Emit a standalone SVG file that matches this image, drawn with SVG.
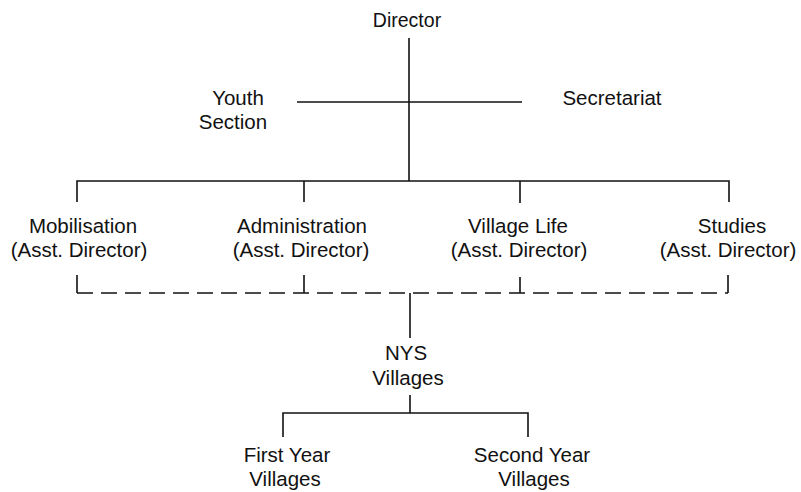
<svg xmlns="http://www.w3.org/2000/svg" width="801" height="492" viewBox="0 0 801 492">
<style>
text{font-family:"Liberation Sans",Arial,sans-serif;font-size:20.5px;fill:#111;text-anchor:middle}
.ln{stroke:#111;stroke-width:1.6;fill:none}
.dash{stroke:#111;stroke-width:1.6;fill:none;stroke-dasharray:16 8}
</style>
<rect width="801" height="492" fill="#fff"/>
<g id="connectors">
<path class="ln" d="M409 38V181"/>
<path class="ln" d="M297 102H522"/>
<path class="ln" d="M77 202V181H729V202M304 181V202M520 181V203"/>
<path class="ln" d="M77 275V293M304 275V293M520 277V293M728 275V293"/>
<path class="dash" d="M77 293H728"/>
<path class="ln" d="M410 293V338"/>
<path class="ln" d="M410 395V413M283 437V413H528V437"/>
</g>
<g id="director"><text x="407" y="27" style="font-size:19.5px">Director</text></g>
<g id="youth"><text x="238" y="105">Youth</text><text x="233" y="129">Section</text></g>
<g id="secretariat"><text x="612" y="105">Secretariat</text></g>
<g id="mobilisation"><text x="83" y="233">Mobilisation</text><text x="79" y="257">(Asst. Director)</text></g>
<g id="administration"><text x="302" y="233">Administration</text><text x="301" y="257">(Asst. Director)</text></g>
<g id="villagelife"><text x="518" y="233">Village Life</text><text x="519" y="257">(Asst. Director)</text></g>
<g id="studies"><text x="732" y="233">Studies</text><text x="728" y="257">(Asst. Director)</text></g>
<g id="nys"><text x="406" y="360">NYS</text><text x="408" y="385">Villages</text></g>
<g id="firstyear"><text x="287" y="462">First Year</text><text x="285" y="486">Villages</text></g>
<g id="secondyear"><text x="532" y="462">Second Year</text><text x="534" y="486">Villages</text></g>
</svg>
